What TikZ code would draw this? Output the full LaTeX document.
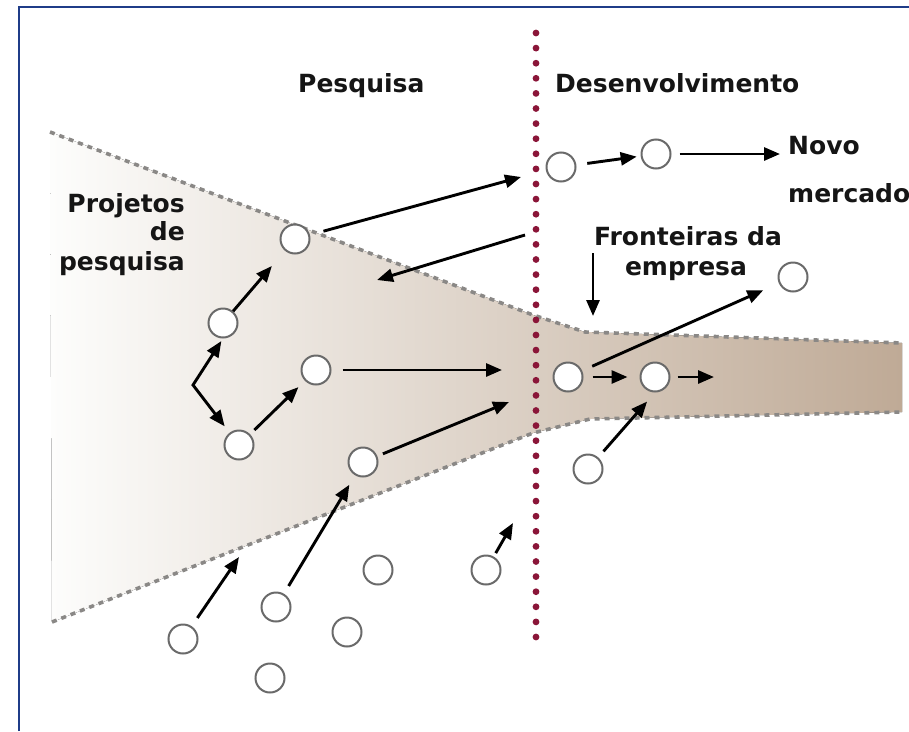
\documentclass[tikz,border=0pt]{standalone}
\usepackage{fontspec}
\setmainfont{DejaVu Sans}
\usetikzlibrary{arrows.meta}
\definecolor{framec}{HTML}{1F3C88}
\definecolor{dotc}{HTML}{8A1538}
\definecolor{fundtan}{HTML}{BFAA96}
\definecolor{fundpale}{HTML}{FDFDFC}
\definecolor{dashc}{HTML}{8A8886}
\definecolor{circc}{HTML}{6A6A6A}
\definecolor{txtc}{HTML}{151515}
\begin{document}
\begin{tikzpicture}[x=1pt,y=-1pt,
  proj/.style={circle, draw=circc, line width=2pt, fill=white, minimum size=29pt, inner sep=0pt},
  arr/.style={line width=2.9pt, -{Triangle[length=16pt,width=13pt]}},
  lbl/.style={font=\fontsize{25}{29}\selectfont\bfseries, text=txtc, inner sep=0pt},
  bound/.style={dashc, line width=3.6pt, dash pattern=on 5pt off 5pt}
]
\useasboundingbox[fill=white] (0,0) rectangle (909,731);
% frame
\draw[framec, line width=2.8pt] (19,731) -- (19,7) -- (909,7);
% funnel
\fill[left color=fundpale, right color=fundtan]
  (50,132) -- (533,315) -- (585,332) -- (902,343) -- (902,412) -- (590,419) -- (533,433) -- (52,622) -- cycle;
\draw[bound] (50,132) -- (533,315) -- (585,332) -- (902,343);
\draw[bound] (52,622) -- (533,433) -- (590,419) -- (902,412);
% red dotted boundary
\foreach \i in {0,...,40} \fill[dotc] (536,33+\i*15.1) circle (3.4pt);
% projects
\node[proj] (c1) at (295,239) {};
\node[proj] (c2) at (223,323) {};
\node[proj] (c3) at (239,445) {};
\node[proj] (c4) at (316,370) {};
\node[proj] (c5) at (363,462) {};
\node[proj] (c6) at (568,377) {};
\node[proj] (c7) at (655,377) {};
\node[proj] (c8) at (588,469) {};
\node[proj] (c9) at (656,154) {};
\node[proj] (c10) at (561,167) {};
\node[proj] (ctr) at (793,277) {};
\node[proj] (c11) at (183,639) {};
\node[proj] (c12) at (276,607) {};
\node[proj] (c13) at (270,678) {};
\node[proj] (c14) at (378,570) {};
\node[proj] (c15) at (347,632) {};
\node[proj] (c16) at (486,570) {};
% free ends
\coordinate (fork) at (193,385);
\coordinate (p1) at (521,177);
\coordinate (p2) at (525,235);
\coordinate (p3) at (377,280);
\coordinate (p4) at (502,370);
\coordinate (p5) at (509,402);
\coordinate (p6) at (239,557);
\coordinate (p7) at (513,523);
\coordinate (p8) at (780,154);
\coordinate (p9) at (593,253);
\coordinate (p10) at (593,316);
\coordinate (p11) at (714,377);
% arrows
\draw[arr, shorten <=0pt, shorten >=20pt] (c2) -- (c1);
\draw[line width=2.9pt, {Triangle[length=16pt,width=13pt]}-{Triangle[length=16pt,width=13pt]}, shorten <=3pt, shorten >=8pt] (c2.south) -- (fork) -- (c3);
\draw[arr, shorten <=6pt, shorten >=9pt] (c3) -- (c4);
\draw[arr, shorten <=14pt] (c1) -- (p1);
\draw[arr] (p2) -- (p3);
\draw[arr, shorten <=11pt] (c4) -- (p4);
\draw[arr, shorten <=6pt] (c5) -- (p5);
\draw[arr, shorten <=10pt] (c11) -- (p6);
\draw[arr, shorten <=9pt, shorten >=11pt] (c12) -- (c5);
\draw[arr, shorten <=4pt] (c16) -- (p7);
\draw[arr, shorten <=11pt, shorten >=4pt] (c10) -- (c9);
\draw[arr, shorten <=8pt] (c9) -- (p8);
\draw[arr] (p9) -- (p10);
\draw[arr, shorten <=11pt, shorten >=17pt] (c6) -- (ctr);
\draw[arr, shorten <=9pt, shorten >=12pt] (c6) -- (c7);
\draw[arr, shorten <=7pt] (c7) -- (p11);
\draw[arr, shorten <=8pt, shorten >=12pt] (c8) -- (c7.south);
% labels
\node[lbl, anchor=base west] (tPesq) at (298,92) {Pesquisa};
\node[lbl, anchor=base west] (tDes) at (555,92) {Desenvolvimento};
\node[lbl, anchor=base west] (tNovo) at (788,154) {Novo};
\node[lbl, anchor=base west] (tMerc) at (788,202) {mercado};
\node[lbl, anchor=base east] (tProj1) at (185,212) {Projetos};
\node[lbl, anchor=base east] (tProj2) at (185,240) {de};
\node[lbl, anchor=base east] (tProj3) at (185,270) {pesquisa};
\node[lbl, anchor=base] (tFront1) at (688,245) {Fronteiras da};
\node[lbl, anchor=base] (tFront2) at (686,275) {empresa};
\end{tikzpicture}
\end{document}
